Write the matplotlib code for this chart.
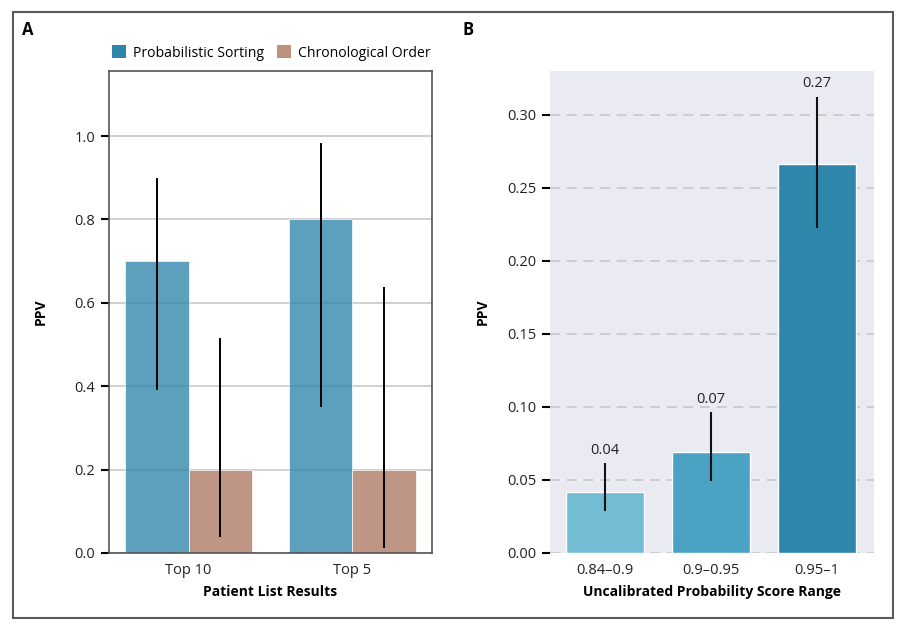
import matplotlib
matplotlib.use("Agg")
import matplotlib.pyplot as plt
from matplotlib.patches import Patch, Rectangle
import numpy as np

plt.rcParams['font.family'] = ['Open Sans', 'DejaVu Sans']

# ---- Panel A data ----
groups_a = ["Top 10", "Top 5"]
series_a = ["Probabilistic Sorting", "Chronological Order"]
prob_vals = [0.70, 0.80]
prob_lo = [0.39, 0.35]
prob_hi = [0.90, 0.983]
chron_vals = [0.20, 0.20]
chron_lo = [0.038, 0.013]
chron_hi = [0.516, 0.638]

# ---- Panel B data ----
cats_b = ["0.84\u20130.9", "0.9\u20130.95", "0.95\u20131"]
ppv_b = [0.042, 0.069, 0.266]
ppv_lo = [0.029, 0.0495, 0.2226]
ppv_hi = [0.0614, 0.0964, 0.3125]
labels_b = ["0.04", "0.07", "0.27"]

blue = "#2E86AB"
brown = "#AE7763"
b_colors = ["#72BCD4", "#4BA3C3", "#2E86AB"]

fig = plt.figure(figsize=(9.12, 6.28), dpi=100)
W, H = 912, 628

def fx(px):
    return px / W

def fy(py):
    return 1 - py / H

# outer frame
fig.patches.append(Rectangle((fx(13), fy(618)), fx(893) - fx(13), fy(12) - fy(618),
                             transform=fig.transFigure, fill=False,
                             edgecolor="#5a5a5a", lw=1.5))

# ---------------- Panel A ----------------
axA = fig.add_axes([fx(109), fy(553), fx(432) - fx(109), fy(71) - fy(553)])
x = np.arange(len(groups_a))
bw = 0.39
xp = x - bw / 2
xc = x + bw / 2
axA.set_axisbelow(True)
axA.yaxis.grid(True, color="#c8c8c8", lw=1.2)
axA.bar(xp, prob_vals, width=bw, color=blue, alpha=0.78, edgecolor="white", lw=0.6, zorder=2)
axA.bar(xc, chron_vals, width=bw, color=brown, alpha=0.78, edgecolor="white", lw=0.6, zorder=2)
axA.errorbar(xp, prob_vals,
             yerr=[np.array(prob_vals) - np.array(prob_lo), np.array(prob_hi) - np.array(prob_vals)],
             fmt="none", ecolor="black", elinewidth=1.4, capsize=0, zorder=3)
axA.errorbar(xc, chron_vals,
             yerr=[np.array(chron_vals) - np.array(chron_lo), np.array(chron_hi) - np.array(chron_vals)],
             fmt="none", ecolor="black", elinewidth=1.4, capsize=0, zorder=3)
axA.set_xlim(-0.485, 1.485)
axA.set_ylim(0, 1.156)
axA.set_yticks([0.0, 0.2, 0.4, 0.6, 0.8, 1.0])
axA.set_yticklabels(["0.0", "0.2", "0.4", "0.6", "0.8", "1.0"])
axA.set_xticks(x)
axA.set_xticklabels(groups_a)
axA.tick_params(axis="x", length=0, pad=7, labelsize=10.5, colors="#222222")
axA.tick_params(axis="y", length=6, width=1.5, direction="out", pad=4, labelsize=10.5,
                colors="black", labelcolor="#222222")
for s in axA.spines.values():
    s.set_color("#555555")
    s.set_linewidth(1.2)
axA.set_ylabel("PPV", fontweight="bold", fontsize=10)
axA.yaxis.set_label_coords(-(109 - 48) / 323, 0.5)
axA.set_xlabel("Patient List Results", fontweight="bold", fontsize=10)
axA.xaxis.set_label_coords(0.5, -(592 - 553) / 482)
axA.xaxis.label.set_va("center")
handles = [Patch(facecolor=blue), Patch(facecolor="#C0907E")]
axA.legend(handles, series_a, loc="center left", bbox_to_anchor=(0.01, 1 + 18 / 482),
           ncol=2, frameon=False, fontsize=10.1, handlelength=1.0, handleheight=1.0,
           handletextpad=0.5, columnspacing=0.9, borderpad=0, borderaxespad=0)
fig.text(fx(28), fy(30), "A", fontweight="bold", fontsize=12, ha="center", va="center")

# ---------------- Panel B ----------------
axB = fig.add_axes([fx(550), fy(553), fx(874) - fx(550), fy(71) - fy(553)])
axB.set_facecolor("#EAEAF2")
xb = np.arange(len(cats_b))
axB.set_axisbelow(True)
axB.yaxis.grid(True, color="#c8c8c8", lw=1.2, ls=(0, (6, 4)))
axB.bar(xb, ppv_b, width=0.735, color=b_colors, edgecolor="white", lw=1.0, zorder=2)
axB.errorbar(xb, ppv_b,
             yerr=[np.array(ppv_b) - np.array(ppv_lo), np.array(ppv_hi) - np.array(ppv_b)],
             fmt="none", ecolor="#111111", elinewidth=1.5, capsize=0, zorder=3)
for xi, hi, lab in zip(xb, ppv_hi, labels_b):
    axB.annotate(lab, (xi, hi), xytext=(0, 4), textcoords="offset points",
                 ha="center", va="bottom", fontsize=10.5, color="#222222")
axB.set_xlim(-0.52, 2.54)
axB.set_ylim(0, 0.33)
yt = [0.00, 0.05, 0.10, 0.15, 0.20, 0.25, 0.30]
axB.set_yticks(yt)
axB.set_yticklabels([f"{v:.2f}" for v in yt])
axB.set_xticks(xb)
axB.set_xticklabels(cats_b)
axB.tick_params(axis="x", length=0, pad=7, labelsize=10.5, colors="#222222")
axB.tick_params(axis="y", length=6, width=1.5, direction="out", pad=4, labelsize=10.5,
                colors="black", labelcolor="#222222")
for s in axB.spines.values():
    s.set_visible(False)
axB.set_ylabel("PPV", fontweight="bold", fontsize=10)
axB.yaxis.set_label_coords(-(550 - 490) / 324, 0.5)
axB.set_xlabel("Uncalibrated Probability Score Range", fontweight="bold", fontsize=10)
axB.xaxis.set_label_coords(0.5, -(592 - 553) / 482)
axB.xaxis.label.set_va("center")
fig.text(fx(468), fy(30), "B", fontweight="bold", fontsize=12, ha="center", va="center")

fig.savefig("out.png", dpi=100)
